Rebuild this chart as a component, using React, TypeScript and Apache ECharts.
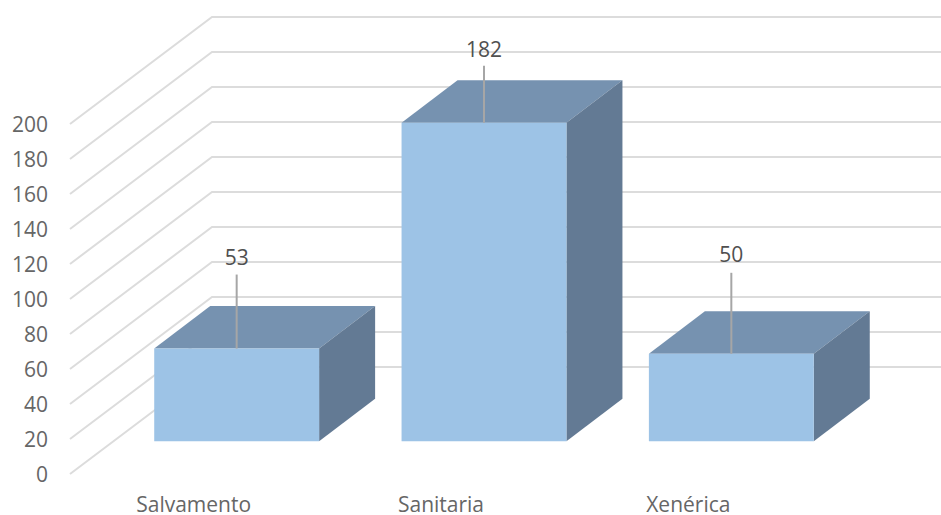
import React, { useEffect, useRef } from "react";
import * as echarts from "echarts";

const categories = ["Salvamento", "Sanitaria", "Xenérica"];
const values = [53, 182, 50];
const gridTicks = [0, 20, 40, 60, 80, 100, 120, 140, 160, 180, 200];

const FONT = "'Open Sans', sans-serif";
const WALL_DX = 142;
const WALL_DY = 107;
const FRONT_DX = 43;
const FRONT_DY = 32.7;
const BAR_DX = 56;
const BAR_DY = 42.5;
const LEADER_LENGTHS = [74, 57, 81];
const LABEL_GAPS = [18, 17, 19];

export default function App() {
  const ref = useRef<HTMLDivElement>(null);
  useEffect(() => {
    document.body.style.margin = "0";
    const chart = echarts.init(ref.current!, undefined, { renderer: "svg" });
    chart.setOption({
      animation: false,
      backgroundColor: "#ffffff",
      grid: { left: 70, top: 124, width: 742, height: 350, containLabel: false },
      xAxis: {
        type: "category",
        data: categories,
        axisLine: { show: false },
        axisTick: { show: false },
        axisLabel: { color: "#666666", fontFamily: FONT, fontSize: 21, margin: 19 },
      },
      yAxis: {
        type: "value",
        min: 0,
        max: 200,
        interval: 20,
        axisLine: { show: false },
        axisTick: { show: false },
        splitLine: { show: false },
        axisLabel: { color: "#666666", fontFamily: FONT, fontSize: 21, margin: 22 },
      },
      series: [
        {
          type: "custom",
          silent: true,
          clip: false,
          z: 1,
          data: gridTicks.map((t) => [0, t]),
          encode: { x: 0, y: 1 },
          renderItem: (params: any, api: any) => {
            const y = api.coord([0, api.value(1)])[1];
            const left = params.coordSys.x;
            const right = left + params.coordSys.width + WALL_DX;
            return {
              type: "polyline",
              shape: {
                points: [
                  [left, y],
                  [left + WALL_DX, y - WALL_DY],
                  [right, y - WALL_DY],
                ],
              },
              style: { stroke: "#dcdcdc", lineWidth: 2, fill: "none" },
            };
          },
        },
        {
          type: "custom",
          silent: true,
          clip: false,
          z: 2,
          data: values.map((v, i) => [i, v]),
          encode: { x: 0, y: 1 },
          renderItem: (params: any, api: any) => {
            const i = api.value(0);
            const [cx, yTop] = api.coord([i, api.value(1)]);
            const [, yBase] = api.coord([i, 0]);
            const w = (api.size([1, 0])[0] * 2) / 3;
            const x0 = cx - w / 2 + FRONT_DX;
            const x1 = x0 + w;
            const b = yBase - FRONT_DY;
            const t = yTop - FRONT_DY;
            const mid = (x0 + x1) / 2;
            const len = LEADER_LENGTHS[params.dataIndex];
            return {
              type: "group",
              children: [
                {
                  type: "polygon",
                  shape: { points: [[x0, t], [x0 + BAR_DX, t - BAR_DY], [x1 + BAR_DX, t - BAR_DY], [x1, t]] },
                  style: { fill: "#7692b0" },
                },
                {
                  type: "polygon",
                  shape: { points: [[x1, b], [x1 + BAR_DX, b - BAR_DY], [x1 + BAR_DX, t - BAR_DY], [x1, t]] },
                  style: { fill: "#637a94" },
                },
                {
                  type: "rect",
                  shape: { x: x0, y: t, width: w, height: b - t },
                  style: { fill: "#9dc3e6" },
                },
                {
                  type: "line",
                  shape: { x1: mid, y1: t, x2: mid, y2: t - len },
                  style: { stroke: "#a6a6a6", lineWidth: 2 },
                },
                {
                  type: "text",
                  style: {
                    x: mid,
                    y: t - len - LABEL_GAPS[params.dataIndex],
                    text: String(api.value(1)),
                    fill: "#505050",
                    font: `21px ${FONT}`,
                    align: "center",
                    verticalAlign: "middle",
                  },
                },
              ],
            };
          },
        },
      ],
    });
    return () => chart.dispose();
  }, []);
  return <div ref={ref} style={{ width: 941, height: 515 }} />;
}
